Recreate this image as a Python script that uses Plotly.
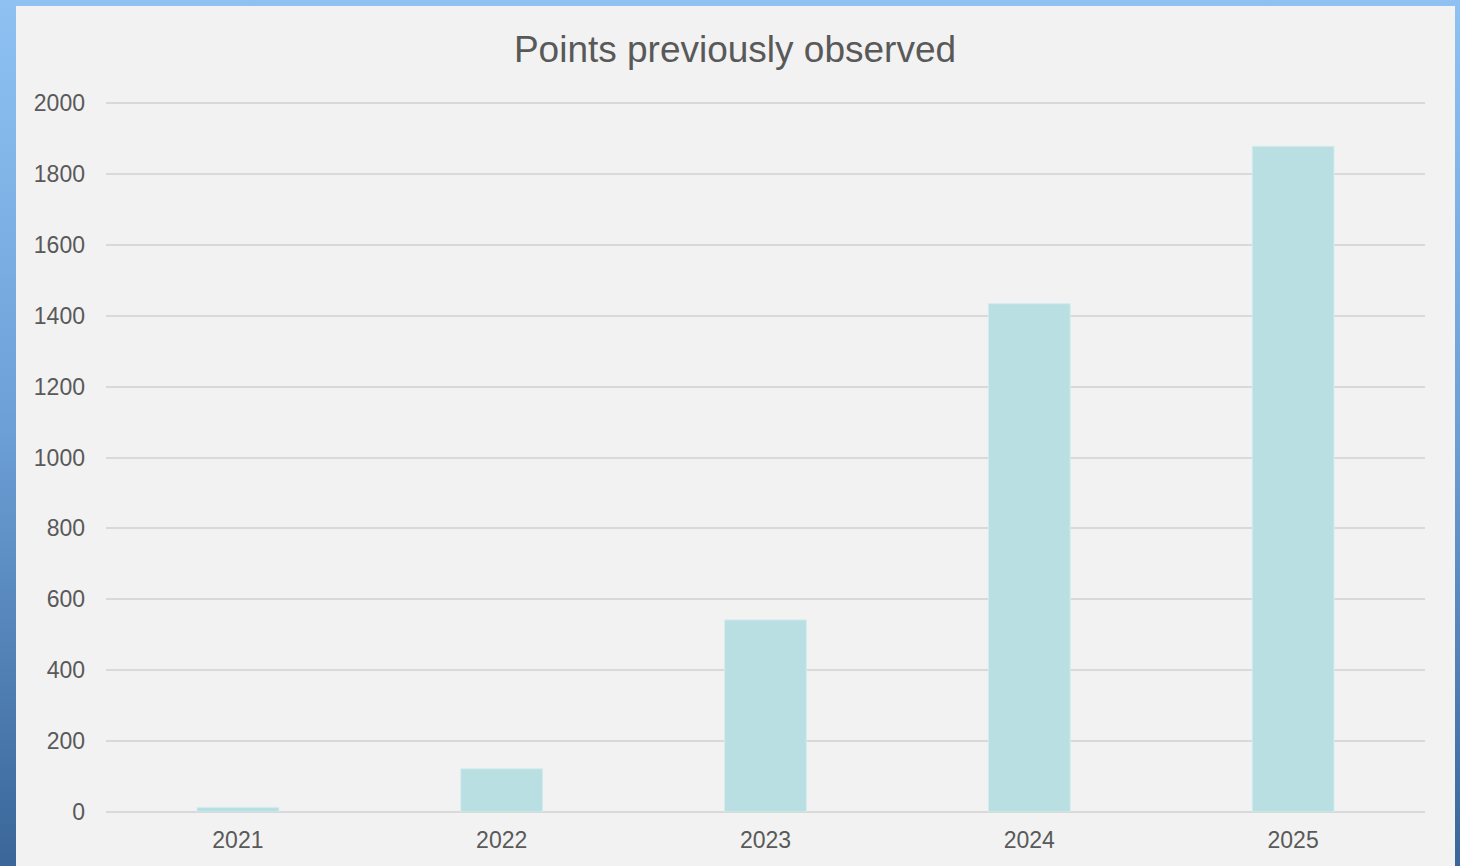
import plotly.graph_objects as go
import base64

years = ["2021", "2022", "2023", "2024", "2025"]
points = [13, 122, 542, 1434, 1878]
y_ticks = [0, 200, 400, 600, 800, 1000, 1200, 1400, 1600, 1800, 2000]

W, H = 1460, 866
L, R, T, B = 106, 35, 102, 54
pw, ph = W - L - R, H - T - B

svg = f'''<svg xmlns="http://www.w3.org/2000/svg" width="{W}" height="{H}" viewBox="0 0 {W} {H}" preserveAspectRatio="none">
<defs><linearGradient id="g" x1="0" y1="0" x2="0" y2="1">
<stop offset="0" stop-color="#8fc2f3"/><stop offset="0.5" stop-color="#6c9fd6"/><stop offset="1" stop-color="#3a6699"/></linearGradient></defs>
<rect x="0" y="0" width="{W}" height="{H}" fill="url(#g)"/>
<rect x="16" y="6" width="1439" height="{H-6}" fill="#f2f2f2"/>
</svg>'''
uri = "data:image/svg+xml;base64," + base64.b64encode(svg.encode()).decode()

fig = go.Figure(go.Bar(
    x=years, y=points,
    marker=dict(color="#b9dfe2", line=dict(color="#d3ecee", width=1)),
    width=0.31,
))

fig.update_layout(
    width=W, height=H,
    margin=dict(l=L, r=R, t=T, b=B),
    paper_bgcolor="#f2f2f2",
    plot_bgcolor="rgba(0,0,0,0)",
    title=dict(text="Points previously observed", x=735 / W, xanchor="center",
               y=1 - 49 / H, yanchor="middle",
               font=dict(family="Liberation Sans, Arial", size=37, color="#595959")),
    font=dict(family="Liberation Sans, Arial", color="#595959", size=23),
    showlegend=False,
    images=[dict(source=uri, xref="paper", yref="paper",
                 x=-L / pw, y=1 + T / ph, sizex=W / pw, sizey=H / ph,
                 xanchor="left", yanchor="top", sizing="stretch", layer="below")],
    xaxis=dict(showgrid=False, showline=False, ticks="", ticklabelstandoff=12,
               tickfont=dict(size=23, color="#595959")),
    yaxis=dict(range=[0, 2003], tickvals=y_ticks, showgrid=True, gridcolor="#d9d9d9",
               gridwidth=2, zeroline=True, zerolinecolor="#d9d9d9", zerolinewidth=2,
               showline=False, ticks="", ticklabelstandoff=20,
               tickfont=dict(size=23, color="#595959")),
)

fig.write_html("out.html", config={"displayModeBar": False},
               post_script="document.body.style.margin='0';document.body.style.overflow='hidden';")
